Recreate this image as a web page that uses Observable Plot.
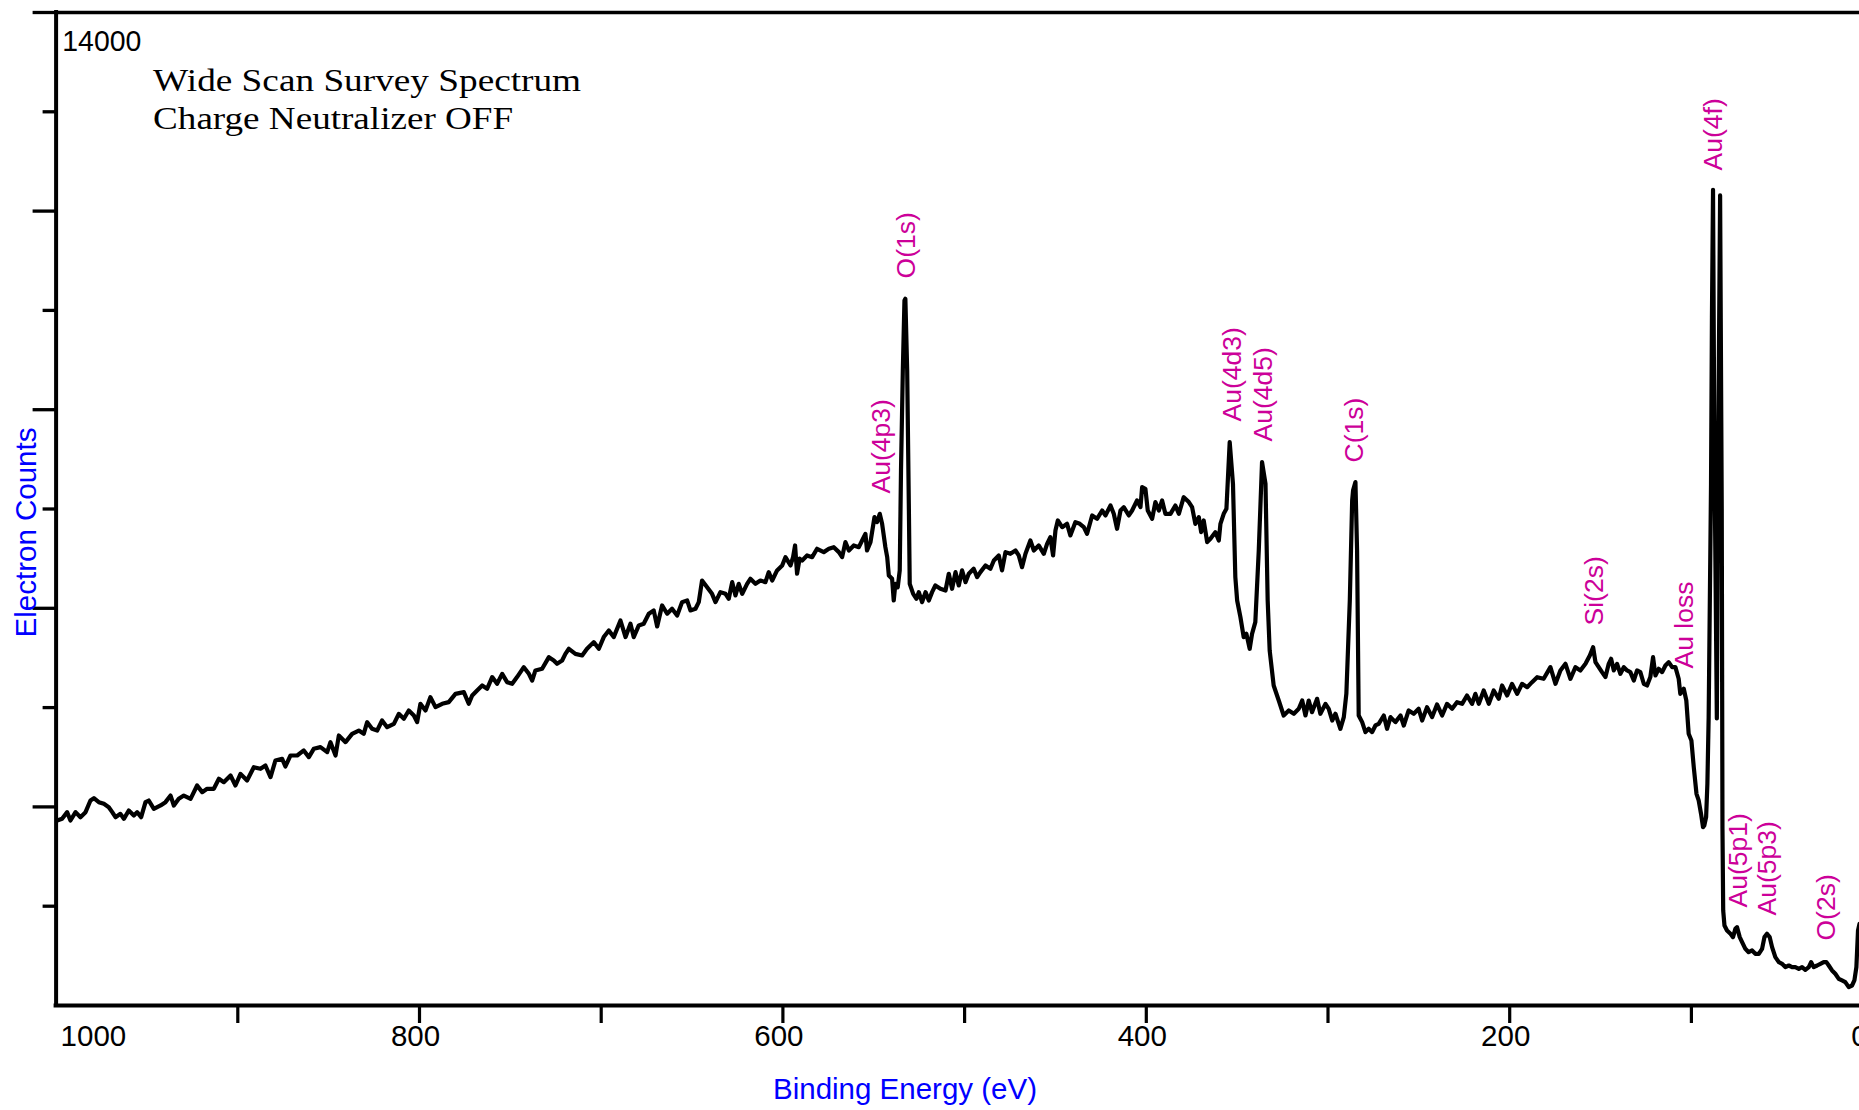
<!DOCTYPE html>
<html>
<head>
<meta charset="utf-8">
<script src="https://cdn.jsdelivr.net/npm/d3@7"></script>
<script src="https://cdn.jsdelivr.net/npm/@observablehq/plot@0.6"></script>
<style>
  html, body { margin: 0; padding: 0; background: #fff; overflow: hidden; }
  #chart { width: 1859px; height: 1110px; overflow: hidden; }
  #chart svg { overflow: hidden; display: block; }
</style>
</head>
<body>
<div id="chart"></div>
<script>
// ---- data ----
const bindingEnergy = [
  999.4, 996.7, 993.9, 992.1, 989.3, 986.6, 983.8, 981.1, 979.2, 976.5,
  973.7, 971.0, 969.1, 967.3, 964.6, 962.7, 960.0, 957.2, 955.4, 953.2,
  950.8, 949.0, 946.2, 942.5, 939.8, 937.0, 935.2, 932.5, 929.7, 926.0,
  922.4, 919.6, 916.9, 913.2, 910.4, 907.7, 904.0, 901.3, 898.5, 894.9,
  891.2, 887.5, 884.8, 882.0, 879.3, 875.6, 873.8, 871.0, 867.3, 863.7,
  860.9, 858.2, 854.5, 850.8, 849.0, 846.2, 844.4, 840.7, 837.1, 833.4,
  830.7, 828.8, 826.1, 823.3, 820.6, 817.8, 814.1, 811.4, 808.6, 805.9,
  803.1, 801.3, 799.5, 796.7, 794.0, 791.2, 787.5, 783.9, 780.2, 775.6,
  772.9, 771.0, 768.3, 765.5, 762.8, 760.0, 757.3, 754.5, 751.8, 749.0,
  746.3, 742.6, 739.8, 738.0, 736.2, 732.5, 728.8, 726.1, 724.3, 721.5,
  719.7, 717.8,
  714.2, 710.5, 707.8, 704.1, 701.3, 698.6, 695.8, 693.1, 689.4, 686.6,
  683.9, 682.1, 679.3, 676.6, 673.8, 671.1, 669.2, 666.5, 663.7, 661.0,
  658.2, 655.5, 652.7, 650.9, 648.1, 646.3, 644.5, 641.7, 639.0, 637.1,
  634.4, 631.6, 629.8, 627.9, 626.1, 624.3, 622.4, 619.7, 617.9, 615.1,
  612.4, 609.6, 607.8, 605.9, 603.2, 600.4, 598.6, 595.8, 594.4, 593.3,
  592.2, 590.8, 589.4, 586.7, 583.9, 581.2, 577.5, 574.7, 572.0, 569.2,
  567.4, 565.6, 563.7, 561.0, 558.2, 556.4, 554.6, 553.7, 551.8, 549.6,
  548.2, 546.7, 545.4, 543.6, 542.6, 541.7, 539.9, 539.0, 538.1, 536.8,
  535.7, 535.0, 534.0, 533.1, 532.6, 531.6, 530.7, 530.2, 528.3, 526.5,
  525.2, 523.4, 521.5, 519.7, 517.9, 516.1, 513.3, 510.5, 508.7, 506.9,
  505.0, 503.2, 501.4, 499.5, 497.7, 495.0, 493.1, 491.3, 488.5, 485.8,
  483.9, 481.2, 479.4, 477.5, 474.8, 472.0, 470.2, 468.4, 466.5, 463.8,
  461.9, 459.2, 456.4, 454.6, 452.8, 451.3, 450.0, 448.7, 446.3, 443.6,
  441.8, 439.0, 436.6,
  434.4, 432.6, 429.8, 427.1, 424.3, 422.5, 419.7, 417.9, 416.1, 414.2,
  412.4, 409.6, 407.8, 405.1, 403.2, 402.3, 400.5, 399.2, 396.8, 395.0,
  393.1, 391.3, 389.5, 386.7, 384.0, 382.1, 379.4, 376.6, 374.8, 373.0,
  371.1, 369.8, 368.4, 366.5, 364.7, 362.0, 360.1, 359.2, 357.4, 355.9,
  354.1, 352.3, 351.0, 350.0, 348.2, 346.4, 344.9, 343.1, 341.8, 340.0,
  338.1, 336.3, 334.4, 333.2, 332.1, 329.9, 327.1, 324.4, 321.6, 318.8,
  316.1, 314.2, 312.4, 310.6, 308.8, 306.0, 304.2, 301.4, 299.6, 297.7,
  295.9, 293.2, 291.3, 289.9, 288.0, 286.7, 286.2, 284.9, 284.0, 283.1,
  281.2, 279.4, 277.6, 275.7, 273.9, 272.1, 269.3, 267.5, 265.6, 262.9,
  260.1, 258.3, 255.6, 252.8, 250.1, 248.2, 245.5, 242.7, 240.0, 237.2,
  234.5, 231.7, 229.0, 226.2, 223.5, 220.7, 218.9, 217.0, 214.3, 211.5,
  208.8, 206.0, 204.2, 201.4, 198.7, 195.9, 193.2, 190.4, 187.7, 184.9,
  181.3, 177.6, 174.8, 172.1, 169.3, 166.6, 163.8, 161.1, 158.3, 155.9,
  154.1, 152.8, 151.0, 149.2, 147.3, 145.5, 144.2, 142.7, 140.9, 139.1,
  137.2, 135.4, 133.6, 131.7, 129.9, 128.1, 126.2, 124.4, 122.6, 121.1,
  119.8, 118.0, 116.1, 114.3, 112.5, 110.6, 108.8, 107.0, 106.1, 104.2,
  102.8, 101.5, 100.0, 98.7, 97.2, 96.0, 94.7, 93.6, 92.9, 91.9,
  91.2, 90.5, 89.2, 88.7, 88.1, 87.4, 86.0, 85.2, 84.2, 83.3,
  82.9, 82.5, 81.8, 80.4, 78.5, 77.1, 75.8, 74.9, 73.4, 72.1,
  70.3, 68.5, 66.6, 64.8, 62.9, 61.1, 59.8, 58.4, 56.9, 55.6,
  53.8, 51.9, 50.1, 48.3, 46.4, 44.6, 42.8, 40.9, 39.1, 37.3,
  35.4, 34.1, 32.7, 30.8, 29.0, 27.2, 25.7, 24.4, 22.6, 20.8,
  18.9, 17.1, 15.3, 13.4, 11.6, 10.3, 9.2, 8.3, 7.5
];
const electronCounts = [
  2608, 2632, 2726, 2608, 2726, 2655, 2726, 2890, 2923, 2867,
  2843, 2796, 2726, 2655, 2702, 2632, 2750, 2679, 2726, 2655,
  2867, 2890, 2773, 2820, 2867, 2960, 2820, 2914, 2960, 2914,
  3102, 3008, 3055, 3055, 3196, 3149, 3243, 3102, 3266, 3172,
  3360, 3337, 3384, 3220, 3454, 3478, 3370, 3525, 3525, 3596,
  3502, 3619, 3643, 3572, 3713, 3525, 3807, 3713, 3830, 3877,
  3830, 3995, 3901, 3877, 4018, 3924, 3971, 4112, 4042, 4160,
  4089, 3995, 4254, 4160, 4348, 4206, 4254, 4277, 4394, 4418,
  4254, 4371, 4442, 4512, 4465, 4630, 4536, 4676, 4559, 4536,
  4630, 4770, 4676, 4582, 4724, 4747, 4911, 4864, 4817, 4864,
  4958, 5029,
  4958, 4935, 5029, 5123, 5029, 5194, 5288, 5194, 5428, 5194,
  5382, 5194, 5358, 5382, 5523, 5570, 5344, 5640, 5523, 5593,
  5499, 5687, 5711, 5570, 5593, 5687, 5992, 5898, 5804, 5687,
  5828, 5804, 5734, 5969, 5781, 5945, 5804, 5945, 6016, 5945,
  5992, 5969, 6110, 5992, 6134, 6204, 6321, 6204, 6321, 6486,
  6087, 6300, 6274, 6345, 6321, 6439, 6392, 6439, 6462, 6392,
  6321, 6533, 6415, 6486, 6462, 6556, 6650, 6415, 6533, 6885,
  6815, 6932, 6791, 6462, 6321, 6063, 6016, 5710, 5945, 5898,
  6134, 7543, 8953, 9940, 9964, 8953, 7074, 5945, 5804, 5734,
  5828, 5687, 5828, 5710, 5828, 5922, 5875, 5851, 6087, 5875,
  6110, 5922, 6134, 5969, 6087, 6157, 6039, 6110, 6204, 6157,
  6274, 6345, 6134, 6392, 6368, 6415, 6345, 6180, 6368, 6556,
  6415, 6486, 6368, 6509, 6603, 6345, 6697, 6838, 6744, 6791,
  6627, 6815, 6791,
  6745, 6651, 6909, 6862, 6979, 6909, 7050, 6932, 6721, 6979,
  7026, 6909, 6979, 7120, 7026, 7308, 7285, 6979, 6862, 7097,
  6979, 7120, 6932, 6932, 7050, 6932, 7167, 7097, 7026, 6791,
  6885, 6674, 6838, 6533, 6580, 6674, 6556, 6791, 6932, 7003,
  7943, 7355, 6040, 5710, 5475, 5193, 5240, 5029, 5240, 5405,
  6416, 7661, 7355, 5710, 5005, 4512, 4300, 4089, 4160, 4113,
  4183, 4300, 4089, 4300, 4136, 4324, 4113, 4253, 4183, 4018,
  4113, 3901, 4066, 4394, 5710, 7120, 7262, 7379, 6416, 4089,
  3995, 3854, 3901, 3854, 3948, 3971, 4089, 3901, 4066, 3995,
  4089, 3948, 4160, 4113, 4183, 4018, 4206, 4066, 4244, 4089,
  4253, 4183, 4277, 4253, 4371, 4253, 4394, 4253, 4441, 4253,
  4441, 4324, 4512, 4371, 4535, 4394, 4535, 4488, 4559, 4629,
  4606, 4770, 4535, 4723, 4817, 4606, 4770, 4723, 4817, 4935,
  5052, 4841, 4770, 4700, 4630, 4817, 4888, 4724, 4817, 4676,
  4770, 4724, 4700, 4582, 4724, 4700, 4536, 4512, 4630, 4911,
  4653, 4747, 4700, 4794, 4841, 4770, 4770, 4606, 4394, 4465,
  4300, 3831, 3737, 3361, 2985, 2891, 2703, 2515, 2538, 2656,
  3126, 4066, 7356, 9705, 11501, 8000, 4047, 8000, 11421, 7000,
  2500, 1340, 1128, 1058, 1011, 964, 1081, 1105, 964, 893,
  799, 752, 776, 729, 729, 799, 964, 1011, 964, 823,
  682, 612, 588, 541, 564, 541, 541, 517, 541, 503,
  541, 612, 541, 564, 588, 612, 612, 564, 494, 447,
  376, 353, 329, 259, 282, 353, 541, 1058, 1150
];

const peakNames  = ["Au(4p3)", "O(1s)", "Au(4d3)", "Au(4d5)", "C(1s)", "Si(2s)", "Au loss", "Au(4f)", "Au(5p1)", "Au(5p3)", "O(2s)"];
const peakEnergy = [546.0, 532.0, 352.6, 335.5, 285.5, 153.4, 103.8, 87.9, 74.1, 58.2, 25.7];
const peakCounts = [7219, 10250, 8234, 7952, 7656, 5358, 4751, 11773, 1382, 1269, 916];

const xTicks = [900, 800, 700, 600, 500, 400, 300, 200, 100, 0];
const xTickLabels = [1000, 800, 600, 400, 200, 0];
const yMajorTicks = [2800, 5600, 8400, 11200, 14000];
const yMinorTicks = [1400, 4200, 7000, 9800, 12600];
const yTopLabel = "14000";
const titleLines = ["Wide Scan Survey Spectrum", "Charge Neutralizer OFF"];
const xTitle = "Binding Energy (eV)";
const yTitle = "Electron Counts";

// ---- build ----
const spectrum = bindingEnergy.map((be, i) => ({be, counts: electronCounts[i]}));
const peaks = peakNames.map((name, i) => ({name, be: peakEnergy[i], counts: peakCounts[i]}));

const SANS = "'Liberation Sans', Arial, Helvetica, sans-serif";
const SERIF = "'Liberation Serif', 'Times New Roman', Times, serif";
const MAGENTA = "#cc0099";
const BLUE = "#0000ff";

const chart = Plot.plot({
  width: 1859,
  height: 1110,
  marginLeft: 55.6,
  marginRight: 0,
  marginTop: 12,
  marginBottom: 105,
  style: {background: "white", fontFamily: SANS, overflow: "hidden"},
  x: {domain: [1000, 0], range: [55.6, 1872.6]},
  y: {domain: [0, 14000], range: [1005, 12]},
  marks: [
    Plot.axisX(xTicks, {anchor: "bottom", tickSize: 18, strokeWidth: 3.2, fill: "none", label: null}),
    Plot.axisY(yMajorTicks, {anchor: "left", tickSize: 23, strokeWidth: 3.3, fill: "none", label: null}),
    Plot.axisY(yMinorTicks, {anchor: "left", tickSize: 13, strokeWidth: 3.3, fill: "none", label: null}),
    Plot.ruleX([1000], {stroke: "black", strokeWidth: 4, strokeLinecap: "square"}),
    Plot.ruleY([0], {stroke: "black", strokeWidth: 4, strokeLinecap: "square"}),
    Plot.ruleY([14000], {stroke: "black", strokeWidth: 3.5}),
    Plot.line(spectrum, {x: "be", y: "counts", stroke: "black", strokeWidth: 4.2, strokeLinejoin: "round"}),
    Plot.text(peaks, {x: "be", y: "counts", text: "name", rotate: -90, textAnchor: "start",
      fill: MAGENTA, fontSize: 26.5, fontFamily: SANS}),
    // x tick labels
    Plot.text(xTickLabels.filter(d => d === 1000), {x: d => d, y: () => 0, text: d => String(d),
      textAnchor: "start", lineAnchor: "bottom", dx: 4.5, dy: 40, fontSize: 29.5, fill: "black"}),
    Plot.text(xTickLabels.filter(d => d !== 1000 && d !== 0), {x: d => d, y: () => 0, text: d => String(d),
      textAnchor: "middle", lineAnchor: "bottom", dx: -4, dy: 40, fontSize: 29.5, fill: "black"}),
    Plot.text(xTickLabels.filter(d => d === 0), {x: d => d, y: () => 0, text: d => String(d),
      textAnchor: "middle", lineAnchor: "bottom", dx: -13.6, dy: 40, fontSize: 29.5, fill: "black"}),
    // axis titles
    Plot.text([xTitle], {frameAnchor: "bottom", dx: -52.8, dy: 93, lineAnchor: "bottom",
      fill: BLUE, fontSize: 29.5}),
    Plot.text([yTitle], {frameAnchor: "left", dx: -29.6, dy: 23.5, rotate: -90, textAnchor: "middle",
      fill: BLUE, fontSize: 29.5}),
    // top-left annotations
    Plot.text([yTopLabel], {frameAnchor: "top-left", dx: 6.2, dy: 38, textAnchor: "start", lineAnchor: "bottom",
      fill: "black", fontSize: 30}),
    Plot.text([titleLines[0]], {frameAnchor: "top-left", dx: 97, dy: 78, textAnchor: "start", lineAnchor: "bottom",
      fill: "black", fontSize: 32.5, fontFamily: SERIF}),
    Plot.text([titleLines[1]], {frameAnchor: "top-left", dx: 97, dy: 116.5, textAnchor: "start", lineAnchor: "bottom",
      fill: "black", fontSize: 32.5, fontFamily: SERIF})
  ]
});

// horizontally stretched annotation text, as in the reference
const stretch = {[titleLines[0]]: 428, [titleLines[1]]: 360, [yTopLabel]: 79};
d3.select(chart).selectAll("text").each(function() {
  const t = this.textContent;
  if (stretch[t]) {
    this.setAttribute("textLength", stretch[t]);
    this.setAttribute("lengthAdjust", "spacingAndGlyphs");
  }
});

document.getElementById("chart").appendChild(chart);
</script>
</body>
</html>
